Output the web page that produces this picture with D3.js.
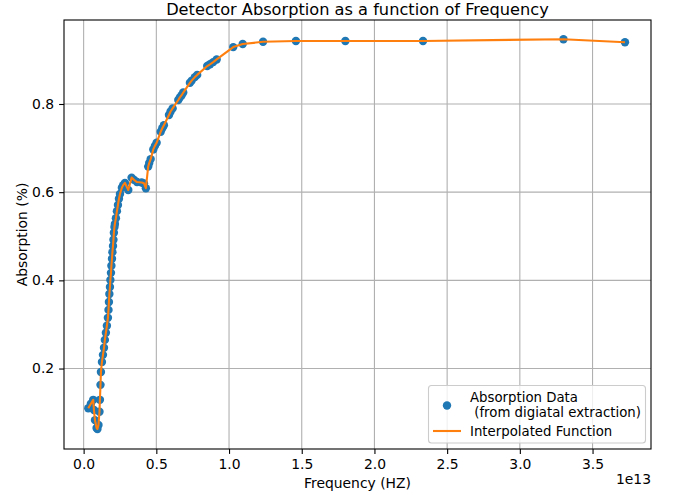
<!DOCTYPE html>
<html>
<head>
<meta charset="utf-8">
<script src="https://cdn.jsdelivr.net/npm/d3@7"></script>
<style>
  body { margin: 0; background: #fff; }
  svg text { font-family: "DejaVu Sans", sans-serif; fill: #000; }
</style>
</head>
<body>
<div id="chart-container"></div>
<script>
// data (frequency in units of 1e13 Hz, absorption as fraction)
const freqE13 = [
  0.032, 0.050, 0.066, 0.071, 0.078, 0.089, 0.095, 0.102, 0.109, 0.112,
  0.116, 0.119, 0.126, 0.133, 0.140, 0.146, 0.153, 0.160, 0.167, 0.171,
  0.174, 0.177, 0.181, 0.184, 0.188, 0.191, 0.195, 0.198, 0.202, 0.205,
  0.208, 0.212, 0.215, 0.222, 0.229, 0.236, 0.243, 0.250, 0.263, 0.272,
  0.284, 0.307, 0.330, 0.346, 0.367, 0.399, 0.415, 0.428, 0.444, 0.451,
  0.461, 0.479, 0.490, 0.502, 0.530, 0.541, 0.552, 0.587, 0.598, 0.612,
  0.651, 0.662, 0.674, 0.685, 0.731, 0.743, 0.765, 0.781, 0.850, 0.869,
  0.891, 0.915, 1.029, 1.094, 1.234, 1.460, 1.800, 2.334, 3.300, 3.723
];
const absorption = [
  0.110, 0.120, 0.129, 0.106, 0.083, 0.065, 0.063, 0.072, 0.102, 0.129,
  0.163, 0.192, 0.215, 0.231, 0.247, 0.265, 0.281, 0.297, 0.315, 0.333,
  0.351, 0.369, 0.385, 0.401, 0.417, 0.433, 0.449, 0.464, 0.478, 0.492,
  0.508, 0.521, 0.528, 0.541, 0.557, 0.571, 0.585, 0.596, 0.610, 0.616,
  0.621, 0.605, 0.633, 0.628, 0.623, 0.622, 0.620, 0.609, 0.658, 0.666,
  0.675, 0.697, 0.705, 0.712, 0.737, 0.745, 0.752, 0.775, 0.783, 0.790,
  0.809, 0.815, 0.820, 0.826, 0.848, 0.853, 0.861, 0.866, 0.886, 0.890,
  0.895, 0.901, 0.929, 0.936, 0.941, 0.943, 0.943, 0.943, 0.947, 0.940
];
const xTicks = [0, 0.5, 1.0, 1.5, 2.0, 2.5, 3.0, 3.5];
const yTicks = [0.2, 0.4, 0.6, 0.8];

const data = freqE13.map((f, i) => ({ f: f, a: absorption[i] }));

// chart dimensions
const W = 683, H = 495;
const margin = { top: 20, right: 32, bottom: 46, left: 64 };
const width = W - margin.left - margin.right;
const height = H - margin.top - margin.bottom;

const xScale = d3.scaleLinear().domain([-0.135, 3.902]).range([0, width]);
const yScale = d3.scaleLinear().domain([0.0175, 0.9905]).range([height, 0]);

const svg = d3.select("#chart-container")
  .append("svg")
  .attr("width", W)
  .attr("height", H);

const g = svg.append("g")
  .attr("transform", `translate(${margin.left},${margin.top})`);

// gridlines
g.append("g")
  .selectAll("line")
  .data(xTicks)
  .join("line")
  .attr("x1", d => xScale(d)).attr("x2", d => xScale(d))
  .attr("y1", 0).attr("y2", height)
  .attr("stroke", "#b0b0b0").attr("stroke-width", 1.1);

g.append("g")
  .selectAll("line")
  .data(yTicks)
  .join("line")
  .attr("x1", 0).attr("x2", width)
  .attr("y1", d => yScale(d)).attr("y2", d => yScale(d))
  .attr("stroke", "#b0b0b0").attr("stroke-width", 1.1);

// scatter points
g.append("g")
  .selectAll("circle")
  .data(data)
  .join("circle")
  .attr("cx", d => xScale(d.f))
  .attr("cy", d => yScale(d.a))
  .attr("r", 4.2)
  .attr("fill", "#1f77b4");

// interpolated line
const line = d3.line()
  .x(d => xScale(d.f))
  .y(d => yScale(d.a));

g.append("path")
  .datum(data)
  .attr("fill", "none")
  .attr("stroke", "#ff7f0e")
  .attr("stroke-width", 2.1)
  .attr("stroke-linejoin", "round")
  .attr("d", line);

// axes
const xAxis = g.append("g")
  .attr("transform", `translate(0,${height})`)
  .call(d3.axisBottom(xScale).tickValues(xTicks).tickFormat(d3.format(".1f"))
    .tickSize(4.9).tickPadding(4.9));
const yAxis = g.append("g")
  .call(d3.axisLeft(yScale).tickValues(yTicks).tickFormat(d3.format(".1f"))
    .tickSize(4.9).tickPadding(4.9));

[xAxis, yAxis].forEach(ax => {
  ax.select(".domain").remove();
  ax.selectAll(".tick line").attr("stroke", "#000").attr("stroke-width", 1.1);
  ax.selectAll(".tick text")
    .style("font-family", "DejaVu Sans, sans-serif")
    .style("font-size", "13.9px")
    .attr("fill", "#000");
});

// frame
g.append("rect")
  .attr("width", width).attr("height", height)
  .attr("fill", "none").attr("stroke", "#000").attr("stroke-width", 1.1);

// offset text
svg.append("text")
  .attr("x", margin.left + width)
  .attr("y", 484)
  .attr("text-anchor", "end")
  .style("font-size", "13.9px")
  .text("1e13");

// axis labels
svg.append("text")
  .attr("x", margin.left + width / 2)
  .attr("y", 488)
  .attr("text-anchor", "middle")
  .style("font-size", "13.9px")
  .text("Frequency (HZ)");

svg.append("text")
  .attr("transform", `translate(27,${margin.top + height / 2}) rotate(-90)`)
  .attr("text-anchor", "middle")
  .style("font-size", "13.9px")
  .text("Absorption (%)");

// title
svg.append("text")
  .attr("x", margin.left + width / 2)
  .attr("y", 15)
  .attr("text-anchor", "middle")
  .style("font-size", "16.2px")
  .text("Detector Absorption as a function of Frequency");

// legend
const lg = svg.append("g");
lg.append("rect")
  .attr("x", 428.5).attr("y", 385.5)
  .attr("width", 217).attr("height", 57.5)
  .attr("rx", 3)
  .attr("fill", "#fff").attr("fill-opacity", 0.8)
  .attr("stroke", "#cccccc").attr("stroke-width", 1.1);
lg.append("circle")
  .attr("cx", 447).attr("cy", 405.5).attr("r", 4.2)
  .attr("fill", "#1f77b4");
lg.append("text")
  .attr("x", 470).attr("y", 402)
  .style("font-size", "13.3px")
  .text("Absorption Data");
lg.append("text")
  .attr("x", 470).attr("y", 417)
  .attr("xml:space", "preserve")
  .style("white-space", "pre")
  .style("font-size", "13.3px")
  .text(" (from digiatal extraction)");
lg.append("line")
  .attr("x1", 433).attr("x2", 461)
  .attr("y1", 431).attr("y2", 431)
  .attr("stroke", "#ff7f0e").attr("stroke-width", 2.1);
lg.append("text")
  .attr("x", 470).attr("y", 436)
  .style("font-size", "13.3px")
  .text("Interpolated Function");
</script>
</body>
</html>
